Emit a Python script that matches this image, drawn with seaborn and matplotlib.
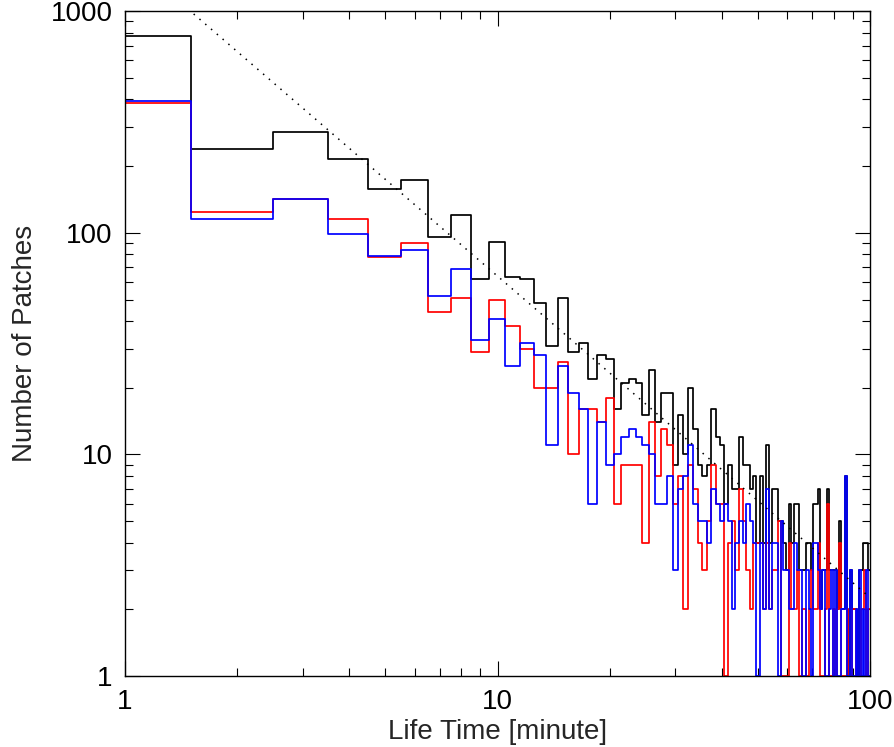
import numpy as np
import pandas as pd
import matplotlib
matplotlib.use("Agg")
import matplotlib.pyplot as plt
import matplotlib.ticker as mticker
import seaborn as sns

# life time bins, 1 minute wide, centred on 1..100 min
lifetime = np.arange(1, 101)

total_counts = [777, 240, 284, 215, 157, 174, 96, 120, 62, 91,
                63, 62, 48, 31, 51, 29, 32, 22, 28, 27,
                16, 21, 22, 21, 15, 24, 14, 19, 19, 9,
                15, 10, 20, 13, 9, 8, 9, 16, 12, 11,
                6, 9, 7, 7, 12, 9, 9, 7, 8, 4,
                8, 4, 11, 4, 7, 7, 5, 5, 4, 3,
                6, 4, 6, 6, 3, 3, 3, 4, 4, 3,
                6, 6, 7, 2, 3, 3, 7, 3, 3, 3,
                3, 2, 5, 2, 2, 8, 2, 1, 3, 2,
                2, 2, 1, 3, 3, 4, 4, 4, 3, 3]

red_counts = [385, 124, 142, 116, 78, 90, 44, 51, 29, 50,
              38, 30, 20, 20, 26, 10, 16, 16, 14, 18,
              6, 9, 9, 9, 4, 14, 8, 13, 11, 6,
              8, 2, 9, 7, 4, 3, 5, 9, 6, 6,
              0, 4, 5, 3, 7, 5, 3, 2, 4, 4,
              4, 2, 4, 2, 3, 3, 5, 0, 1, 0,
              4, 2, 2, 3, 0, 2, 2, 1, 2, 3,
              2, 2, 4, 0, 0, 2, 6, 1, 0, 2,
              0, 2, 4, 0, 0, 0, 2, 1, 0, 2,
              2, 0, 1, 0, 2, 2, 3, 1, 2, 2]

blue_counts = [392, 116, 142, 99, 79, 84, 52, 69, 33, 41,
               25, 32, 28, 11, 25, 19, 16, 6, 14, 9,
               10, 12, 13, 12, 11, 10, 6, 6, 8, 3,
               7, 8, 11, 6, 5, 5, 4, 7, 6, 5,
               6, 5, 2, 4, 5, 4, 6, 5, 4, 0,
               4, 2, 7, 2, 4, 4, 0, 5, 3, 3,
               2, 2, 4, 3, 3, 1, 1, 3, 2, 0,
               4, 4, 3, 2, 3, 1, 1, 2, 3, 1,
               3, 0, 1, 2, 2, 8, 0, 0, 3, 0,
               0, 2, 0, 3, 1, 2, 1, 3, 1, 1]

# power-law guide line (dotted), read at the ends of the x range
fit_x = [1.0, 100.0]
fit_y = [1800.0, 2.26]


def step_frame(counts):
    # bin edges and step heights; empty bins sit on the bottom axis
    edges = np.append(lifetime - 0.5, lifetime[-1] + 0.5)
    vals = np.clip(np.asarray(counts, dtype=float), 1, None)
    return pd.DataFrame({"x": edges, "y": np.append(vals, vals[-1])})


sns.set_style("ticks")
plt.rcParams["font.family"] = ["Liberation Sans", "DejaVu Sans"]

fig = plt.figure(figsize=(8.94, 7.47), dpi=100)
ax = fig.add_axes([0.1398, 0.095, 0.8334, 0.8899])
ax.set_xscale("log")
ax.set_yscale("log")

for counts, col in [(total_counts, "black"), (red_counts, "#ff0000"), (blue_counts, "#0000ff")]:
    sns.lineplot(data=step_frame(counts), x="x", y="y", ax=ax, color=col,
                 drawstyle="steps-post", linewidth=1.25, estimator=None)

sns.lineplot(x=fit_x, y=fit_y, ax=ax, color="black", linewidth=1.1,
             linestyle=(0, (1, 4)), estimator=None)

ax.set_xlim(1, 100)
ax.set_ylim(1, 1000)

fmt = mticker.FuncFormatter(lambda v, p: f"{v:g}")
for axis in (ax.xaxis, ax.yaxis):
    axis.set_major_locator(mticker.LogLocator(base=10))
    axis.set_minor_locator(mticker.LogLocator(base=10, subs=np.arange(2, 10)))
    axis.set_major_formatter(fmt)
    axis.set_minor_formatter(mticker.NullFormatter())

ax.tick_params(which="both", direction="in", top=True, right=True,
               colors="black", labelsize=20, width=0.8)
ax.tick_params(which="major", length=11, pad=9)
ax.tick_params(which="minor", length=5.5)
for sp in ax.spines.values():
    sp.set_linewidth(1.0)
    sp.set_color("black")

ax.set_xlabel("Life Time [minute]", fontsize=20, labelpad=3)
ax.set_ylabel("Number of Patches", fontsize=20, labelpad=9)

fig.savefig("out.png", dpi=100)
